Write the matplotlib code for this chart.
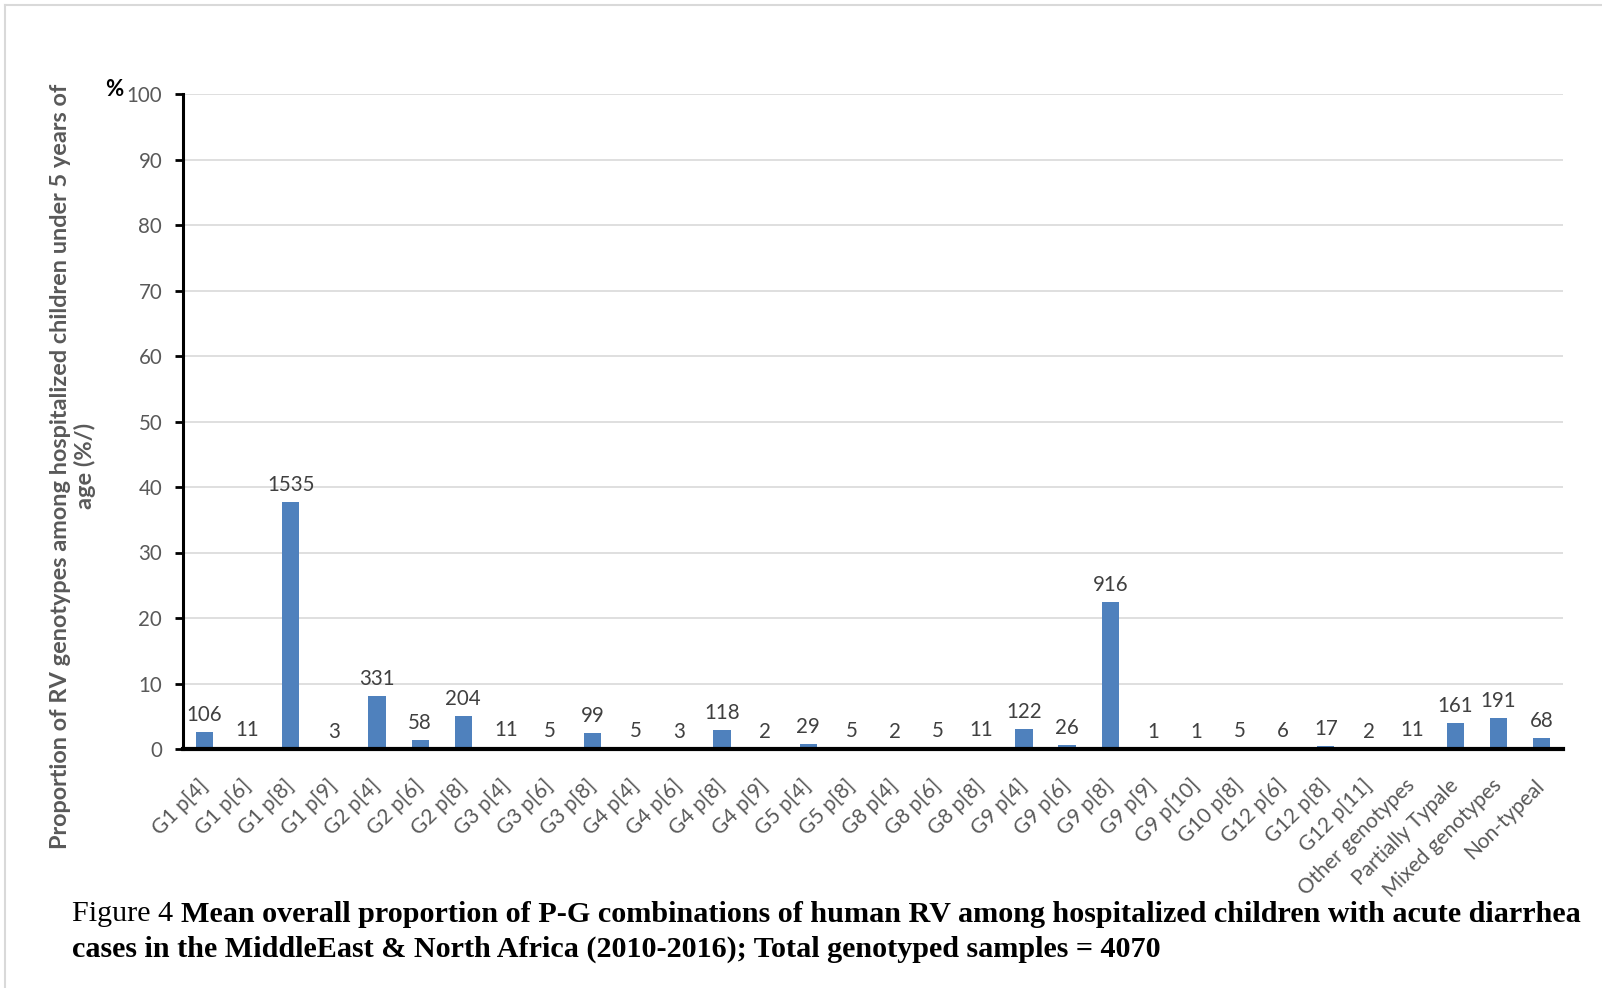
import matplotlib.pyplot as plt
from matplotlib.lines import Line2D
from matplotlib.transforms import ScaledTranslation

genotypes = ["G1 p[4]", "G1 p[6]", "G1 p[8]", "G1 p[9]", "G2 p[4]", "G2 p[6]", "G2 p[8]",
             "G3 p[4]", "G3 p[6]", "G3 p[8]", "G4 p[4]", "G4 p[6]", "G4 p[8]", "G4 p[9]",
             "G5 p[4]", "G5 p[8]", "G8 p[4]", "G8 p[6]", "G8 p[8]", "G9 p[4]", "G9 p[6]",
             "G9 p[8]", "G9 p[9]", "G9 p[10]", "G10 p[8]", "G12 p[6]", "G12 p[8]", "G12 p[11]",
             "Other genotypes", "Partially Typale", "Mixed genotypes", "Non-typeal"]
percent = [2.6, 0.27, 37.7, 0.07, 8.1, 1.4, 5.0,
           0.27, 0.12, 2.4, 0.12, 0.07, 2.9, 0.05,
           0.7, 0.12, 0.05, 0.12, 0.27, 3.0, 0.6,
           22.5, 0.02, 0.02, 0.12, 0.15, 0.4, 0.05,
           0.27, 4.0, 4.7, 1.7]
counts = [106, 11, 1535, 3, 331, 58, 204,
          11, 5, 99, 5, 3, 118, 2,
          29, 5, 2, 5, 11, 122, 26,
          916, 1, 1, 5, 6, 17, 2,
          11, 161, 191, 68]
yticks = [0, 10, 20, 30, 40, 50, 60, 70, 80, 90, 100]

W, H = 1602, 988
fig = plt.figure(figsize=(W / 100, H / 100), dpi=100)
ax = fig.add_axes([183 / W, 1 - 749 / H, (1563 - 183) / W, (749 - 94) / H])

x = list(range(len(genotypes)))
ax.bar(x, percent, width=0.4, color="#4f81bd", zorder=3)

for xi, p, c in zip(x, percent, counts):
    ax.annotate(str(c), (xi, p), xytext=(0, 5), textcoords="offset points",
                ha="center", va="bottom", fontsize=14.8, color="#404040", family="Lato")

ax.set_xlim(-0.5, len(genotypes) - 0.5)
ax.set_ylim(0, 100)
ax.set_yticks(yticks)
ax.set_yticklabels([str(t) for t in yticks], fontsize=14.8, color="#595959", family="Lato")
ax.set_xticks(x)
ax.set_xticklabels(genotypes, rotation=45, ha="right", rotation_mode="anchor",
                   fontsize=15, color="#595959", family="Lato")
ax.tick_params(axis="x", length=0, pad=19)
ax.tick_params(axis="y", length=6, width=2, color="black", direction="out", pad=9)
shift = ScaledTranslation(-7 / 100, 0, fig.dpi_scale_trans)
for lbl in ax.get_xticklabels():
    lbl.set_transform(lbl.get_transform() + shift)
ax.grid(axis="y", color="#d9d9d9", linewidth=1.2, zorder=0)
ax.set_axisbelow(True)

for side in ("top", "right"):
    ax.spines[side].set_visible(False)
ax.spines["left"].set_linewidth(2.2)
ax.spines["bottom"].set_linewidth(3)
ax.spines["bottom"].set_zorder(4)

fig.text(73 / W, 1 - 466 / H,
         "Proportion of RV genotypes among hospitalized children under 5 years of\nage (%/)",
         rotation=90, ha="center", va="center", multialignment="center",
         fontsize=16.9, fontweight="bold", color="#595959", family="Lato", linespacing=1.2)
fig.text(114 / W, 1 - 89 / H, "%", ha="center", va="center",
         fontsize=16, fontweight="bold", color="black", family="Lato")

# caption
cap_y1 = 1 - 914 / H
t1 = fig.text(72 / W, cap_y1, "Figure 4 ", ha="left", va="center",
              fontsize=21.7, family="Liberation Serif", color="black")
fig.canvas.draw()
bb = t1.get_window_extent()
fig.text(bb.x1 / W, cap_y1,
         "Mean overall proportion of P-G combinations of human RV among hospitalized children with acute diarrhea",
         ha="left", va="center", fontsize=21.7, fontweight="bold", family="Liberation Serif", color="black")
fig.text(72 / W, 1 - 949 / H,
         "cases in the MiddleEast & North Africa (2010-2016); Total genotyped samples = 4070",
         ha="left", va="center", fontsize=21.7, fontweight="bold", family="Liberation Serif", color="black")

# light frame at top and left
fig.add_artist(Line2D([5 / W, 1], [1 - 5 / H, 1 - 5 / H], color="#d9d9d9", linewidth=1.5))
fig.add_artist(Line2D([5 / W, 5 / W], [0, 1 - 5 / H], color="#d9d9d9", linewidth=1.5))

fig.savefig("out.png", dpi=100)
